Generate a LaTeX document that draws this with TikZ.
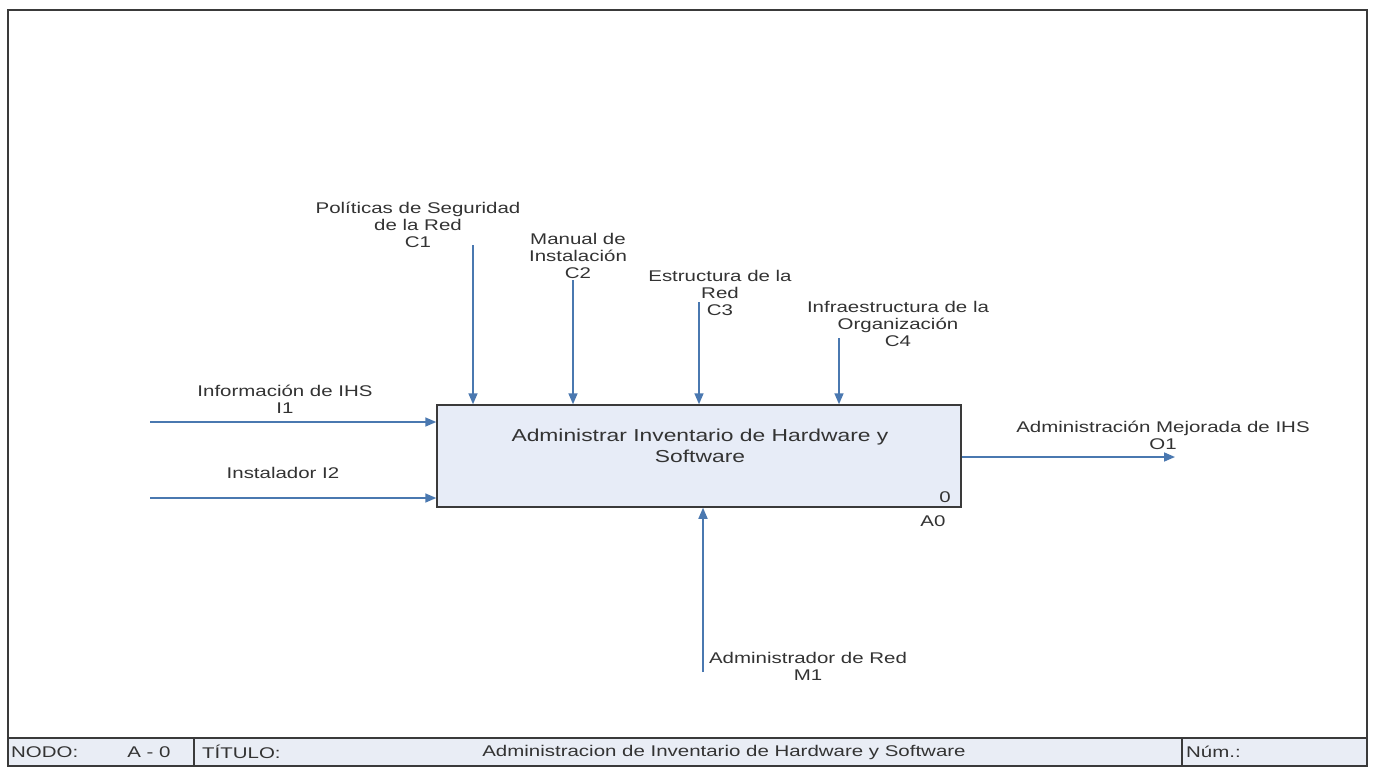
\documentclass[tikz,border=0pt]{standalone}
\usepackage{fontspec}
\setmainfont[FakeStretch=1.32]{Liberation Sans}
\usetikzlibrary{arrows.meta}
\definecolor{flow}{HTML}{4A78B0}
\definecolor{boxfill}{HTML}{E7ECF7}
\definecolor{barfill}{HTML}{E9EDF5}
\definecolor{ink}{HTML}{333333}
\definecolor{rule}{HTML}{3A3A3A}
\begin{document}
\begin{tikzpicture}[x=1pt,y=-1pt,
  lbl/.style={align=center, text=ink, inner sep=0pt,
    font=\fontsize{15.5}{16.8}\selectfont},
  boxtxt/.style={align=center, text=ink, inner sep=0pt,
    font=\fontsize{17.3}{21}\selectfont},
  flowarrow/.style={draw=flow, line width=1.6pt,
    -{Triangle[length=11pt,width=9pt]}},
  activity/.style={draw=rule, line width=1.5pt, fill=boxfill,
    minimum width=524pt, minimum height=102pt, inner sep=0pt}]
\useasboundingbox (0,0) rectangle (1374,769);
\fill[white] (0,0) rectangle (1374,769);

% sheet frame and title strip
\draw[rule, line width=2pt, fill=white] (8,10) rectangle (1367,766);
\draw[rule, line width=1.5pt, fill=barfill] (8,738) rectangle (1367,766);
\draw[rule, line width=1.2pt] (194,738) -- (194,766);
\draw[rule, line width=1.2pt] (1182,738) -- (1182,766);
\node[lbl, anchor=west] (nodo) at (11,752) {NODO:};
\node[lbl] (nodonum) at (149,752) {A - 0};
\node[lbl, anchor=west] (titulo) at (202,752) {TÍTULO:};
\node[lbl] (titulotxt) at (724,752) {Administracion de Inventario de Hardware y Software};
\node[lbl, anchor=west] (num) at (1186,752) {Núm.:};

% activity box
\node[activity] (act) at (699,456) {};
\node[boxtxt] (acttxt) at (700,446) {Administrar Inventario de Hardware y\\Software};
\node[lbl] (actnum) at (945,497) {0};
\node[lbl] (actid) at (933,521) {A0};

% controls
\coordinate (c1s) at (473,245);
\coordinate (c2s) at (573,280);
\coordinate (c3s) at (699,302);
\coordinate (c4s) at (839,338);
\draw[flowarrow] (c1s) -- (c1s |- act.north);
\draw[flowarrow] (c2s) -- (c2s |- act.north);
\draw[flowarrow] (c3s) -- (c3s |- act.north);
\draw[flowarrow] (c4s) -- (c4s |- act.north);
\node[lbl] (c1) at (418,225) {Políticas de Seguridad\\de la Red\\C1};
\node[lbl] (c2) at (578,256) {Manual de\\Instalación\\C2};
\node[lbl] (c3) at (720,293) {Estructura de la\\Red\\C3};
\node[lbl] (c4) at (898,324) {Infraestructura de la\\Organización\\C4};

% inputs
\coordinate (i1s) at (150,422);
\coordinate (i2s) at (150,498);
\draw[flowarrow] (i1s) -- (i1s -| act.west);
\draw[flowarrow] (i2s) -- (i2s -| act.west);
\node[lbl] (i1) at (285,399) {Información de IHS\\I1};
\node[lbl] (i2) at (283,473) {Instalador I2};

% output
\coordinate (o1e) at (1175,457);
\draw[flowarrow] (o1e -| act.east) -- (o1e);
\node[lbl] (o1) at (1163,435) {Administración Mejorada de IHS\\O1};

% mechanism
\coordinate (m1s) at (703,672);
\draw[flowarrow] (m1s) -- (m1s |- act.south);
\node[lbl] (m1) at (808,666) {Administrador de Red\\M1};
\end{tikzpicture}
\end{document}
